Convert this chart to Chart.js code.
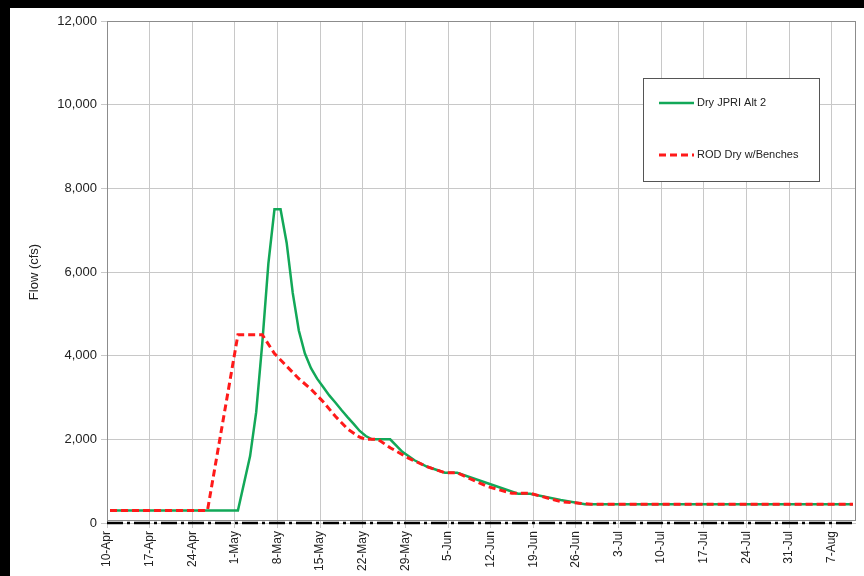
<!DOCTYPE html>
<html>
<head>
<meta charset="utf-8">
<script src="https://cdn.jsdelivr.net/npm/chart.js@4/dist/chart.umd.min.js"></script>
<style>
  html, body { margin: 0; padding: 0; background: #000; }
  #wrap { position: absolute; left: 10px; top: 8px; width: 854px; height: 568px; background: #fff; }
</style>
</head>
<body>
<div id="wrap"><canvas id="flowCanvas" width="854" height="568"></canvas></div>
<script>
// weekly tick labels (10-Apr = day 0)
const tickLabels = ["10-Apr","17-Apr","24-Apr","1-May","8-May","15-May","22-May","29-May","5-Jun",
    "12-Jun","19-Jun","26-Jun","3-Jul","10-Jul","17-Jul","24-Jul","31-Jul","7-Aug"];
const totalDays = 123;

// Dry JPRI Alt 2 (day index, cfs)
const altDays = [0, 21, 22, 23, 24, 25, 26, 27, 28, 29, 30, 31, 32, 33, 34, 35, 36, 37, 38, 39, 40,
    41, 42, 43, 46, 48, 50, 52, 55, 57, 62, 67, 69, 74, 78, 122];
const altFlow = [300, 300, 950, 1600, 2650, 4300, 6200, 7500, 7500, 6700, 5500, 4600, 4050, 3700, 3450,
    3250, 3050, 2880, 2700, 2530, 2370, 2200, 2080, 2000, 2000, 1700, 1500, 1350, 1200, 1200, 950, 700,
    700, 550, 450, 450];

// ROD Dry w/Benches
const rodDays = [0, 16, 21, 25, 27, 29, 31, 33, 35, 37, 39, 41, 42, 44, 46, 49, 52, 55, 57, 62, 66, 69,
    74, 79, 122];
const rodFlow = [300, 300, 4500, 4500, 4050, 3750, 3450, 3200, 2900, 2550, 2250, 2050, 2000, 2000, 1800,
    1550, 1350, 1200, 1200, 870, 710, 710, 510, 450, 450];

// points sit in the middle of their day
function toPoints(days, flows) {
    return days.map((d, i) => ({ x: d + 0.5, y: flows[i] }));
}

const frameAndLegend = {
    id: "frameAndLegend",
    afterDatasetsDraw(chart) {
        const ctx = chart.ctx;
        const a = chart.chartArea;
        ctx.save();
        ctx.strokeStyle = "#8c8c8c";
        ctx.lineWidth = 1;
        ctx.strokeRect(a.left + 0.5, a.top + 0.5, a.right - a.left - 1, a.bottom - a.top - 3);

        // legend box
        const bx = a.right - 213, by = a.top + 57, bw = 176, bh = 103;
        ctx.fillStyle = "#fff";
        ctx.fillRect(bx, by, bw, bh);
        ctx.strokeStyle = "#555";
        ctx.strokeRect(bx + 0.5, by + 0.5, bw, bh);
        const rows = [25, 77];
        ctx.font = "11px 'Liberation Sans', Arial, sans-serif";
        ctx.textBaseline = "middle";
        [0, 1].forEach(i => {
            const ds = chart.data.datasets[i];
            const y = by + rows[i];
            ctx.beginPath();
            ctx.strokeStyle = ds.borderColor;
            ctx.lineWidth = ds.borderWidth;
            ctx.setLineDash(ds.borderDash || []);
            ctx.moveTo(bx + 16, y);
            ctx.lineTo(bx + 51, y);
            ctx.stroke();
            ctx.setLineDash([]);
            ctx.fillStyle = "#222";
            ctx.fillText(ds.label, bx + 54, y);
        });
        ctx.restore();
    }
};

const flowChart = new Chart(document.getElementById("flowCanvas"), {
    type: "line",
    data: {
        datasets: [{
            label: "Dry JPRI Alt 2",
            data: toPoints(altDays, altFlow),
            borderColor: "#12a858",
            borderWidth: 2.5,
            pointRadius: 0,
            order: 2
        }, {
            label: "ROD Dry w/Benches",
            data: toPoints(rodDays, rodFlow),
            borderColor: "#ff1a1a",
            borderWidth: 3,
            borderDash: [7, 4],
            pointRadius: 0,
            order: 1
        }, {
            label: "zero",
            data: [{ x: 0, y: 0 }, { x: totalDays, y: 0 }],
            borderColor: "#000",
            borderWidth: 2.5,
            borderDash: [16, 4, 3, 4],
            pointRadius: 0,
            clip: false,
            order: 0
        }]
    },
    options: {
        responsive: false,
        animation: false,
        layout: { padding: { left: 0, right: 8, top: 13, bottom: 0 } },
        plugins: {
            legend: { display: false },
            tooltip: { enabled: false }
        },
        scales: {
            x: {
                type: "linear",
                min: 0,
                max: totalDays,
                afterFit: (scale) => { scale.height = 53; },
                grid: { color: "#c8c8c8", tickLength: 5 },
                border: { display: false },
                ticks: {
                    stepSize: 7,
                    includeBounds: false,
                    autoSkip: false,
                    maxRotation: 90,
                    minRotation: 90,
                    padding: 3,
                    color: "#222",
                    font: { family: "'Liberation Sans', Arial, sans-serif", size: 12 },
                    callback: (value) => tickLabels[value / 7] || ""
                }
            },
            y: {
                min: 0,
                max: 12000,
                afterFit: (scale) => { scale.width = 97; },
                grid: { color: "#c8c8c8", tickLength: 6 },
                border: { color: "#8c8c8c" },
                ticks: {
                    stepSize: 2000,
                    padding: 4,
                    color: "#222",
                    font: { family: "'Liberation Sans', Arial, sans-serif", size: 13 },
                    callback: (value) => value.toLocaleString("en-US")
                },
                title: {
                    display: true,
                    text: "Flow (cfs)",
                    color: "#222",
                    padding: { top: 17, bottom: 0 },
                    font: { family: "'Liberation Sans', Arial, sans-serif", size: 13 }
                }
            }
        }
    },
    plugins: [frameAndLegend]
});
</script>
</body>
</html>
